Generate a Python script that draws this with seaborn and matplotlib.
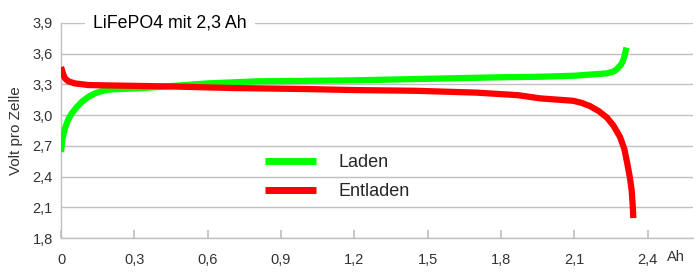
import matplotlib
matplotlib.use("Agg")
import matplotlib.pyplot as plt
import seaborn as sns
import pandas as pd

laden_x = [0, 0.006, 0.016, 0.03, 0.044, 0.065, 0.085, 0.11, 0.139, 0.17, 0.207, 0.316, 0.453, 0.6, 0.8, 1.2, 1.5, 1.8, 1.96, 2.1, 2.233, 2.26, 2.274, 2.29, 2.298, 2.306, 2.312, 2.314]
laden_y = [2.64, 2.77, 2.87, 2.96, 3.017, 3.08, 3.13, 3.175, 3.213, 3.237, 3.252, 3.262, 3.284, 3.31, 3.33, 3.34, 3.355, 3.37, 3.375, 3.385, 3.408, 3.425, 3.447, 3.49, 3.52, 3.58, 3.643, 3.66]

entladen_x = [0, 0.004, 0.009, 0.016, 0.03, 0.057, 0.112, 0.2, 0.453, 0.7, 1.0, 1.2, 1.45, 1.7, 1.87, 1.96, 2.096, 2.13, 2.164, 2.2, 2.233, 2.26, 2.287, 2.305, 2.317, 2.327, 2.335, 2.339, 2.342]
entladen_y = [3.47, 3.44, 3.40, 3.36, 3.33, 3.31, 3.294, 3.29, 3.28, 3.265, 3.255, 3.245, 3.238, 3.22, 3.195, 3.164, 3.14, 3.12, 3.089, 3.04, 2.978, 2.9, 2.789, 2.67, 2.529, 2.40, 2.268, 2.13, 1.994]

series_names = ["Laden", "Entladen"]
series_colors = ["#00ff00", "#ff0000"]
x_ticks = [0, 0.3, 0.6, 0.9, 1.2, 1.5, 1.8, 2.1, 2.4]
y_ticks = [1.8, 2.1, 2.4, 2.7, 3.0, 3.3, 3.6, 3.9]
title = "LiFePO4 mit 2,3 Ah"
y_label = "Volt pro Zelle"
x_unit = "Ah"

df = pd.concat([
    pd.DataFrame({"Ah": laden_x, "V": laden_y, "Serie": series_names[0]}),
    pd.DataFrame({"Ah": entladen_x, "V": entladen_y, "Serie": series_names[1]}),
])

sns.set_theme(style="white")
plt.rcParams["font.family"] = ["Liberation Sans", "DejaVu Sans"]

fig = plt.figure(figsize=(7, 2.75), dpi=100)
ax = fig.add_axes([61/700, 37/275, 632/700, 215/275])

sns.lineplot(data=df, x="Ah", y="V", hue="Serie", palette=dict(zip(series_names, series_colors)),
             linewidth=4.5, sort=False, estimator=None, ax=ax, zorder=3,
             solid_capstyle="butt", solid_joinstyle="round")

ax.set_xlim(0, 2.586)
ax.set_ylim(1.8, 3.9)
ax.set_xticks(x_ticks)
ax.set_yticks(y_ticks)
fmt = lambda v: ("%.1f" % v).replace(".", ",") if v != 0 else "0"
ax.set_xticklabels([fmt(v) for v in x_ticks], fontsize=10.5, color="#333333")
ax.set_yticklabels([fmt(v) for v in y_ticks], fontsize=10.5, color="#333333")
ax.set_xlabel("")
ax.set_ylabel(y_label, fontsize=11, color="#333333", labelpad=7)
ax.yaxis.grid(True, color="#c0c0c0", linewidth=1)
ax.xaxis.grid(False)
for s in ["top", "right"]:
    ax.spines[s].set_visible(False)
for s in ["left", "bottom"]:
    ax.spines[s].set_color("#c0c0c0")
    ax.spines[s].set_linewidth(1)
ax.tick_params(axis="x", direction="in", length=6, color="#c0c0c0", pad=11, bottom=True)
ax.tick_params(axis="y", length=0, pad=6)

ax.text(2.515, -(250-238)/215, x_unit, transform=ax.get_xaxis_transform(), ha="center", va="top",
        fontsize=10.5, color="#333333")

ax.text((93-61)/632, 1.0, title, transform=ax.transAxes, ha="left", va="center", fontsize=12.8,
        color="black", zorder=5,
        bbox=dict(facecolor="white", edgecolor="none", boxstyle="square,pad=0.45"))

leg = ax.legend(loc="upper left", bbox_to_anchor=((265-61)/632, (238-154)/215), frameon=False,
                fontsize=13, handlelength=2.8, handletextpad=1.25, labelspacing=0.68,
                borderpad=0, borderaxespad=0, title=None)
for line in leg.get_lines():
    line.set_linewidth(5)
    line.set_solid_capstyle("butt")

fig.savefig("out.png", dpi=100)
